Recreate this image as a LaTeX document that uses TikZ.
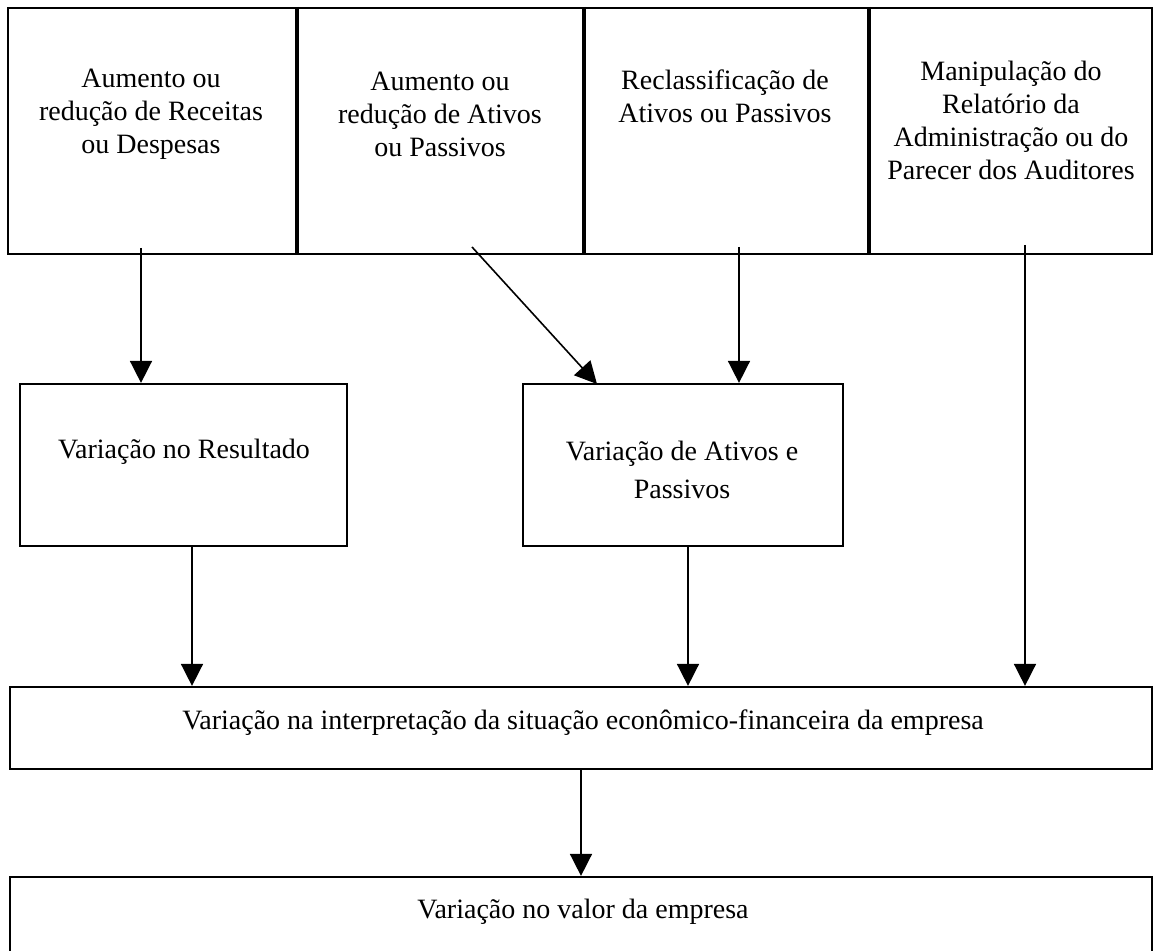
\documentclass[tikz,border=0pt]{standalone}
\usepackage{fontspec}
\setmainfont{Liberation Serif}
\usepackage{tikz}
\usetikzlibrary{arrows.meta,positioning,fit}

\tikzset{
	cell/.style={draw, line width=1.1pt, inner sep=0pt},
	lbl/.style={align=center, inner sep=0pt, font=\fontsize{14}{16.5}\selectfont},
	flow/.style={line width=0.8pt, -{Triangle[length=11pt,width=11pt]}},
}

\begin{document}
\begin{tikzpicture}[x=0.5pt,y=-0.5pt]
		\useasboundingbox (0,0) rectangle (1153,951);
		\clip (0,0) rectangle (1153,951);
		% top row
		\node[cell, fit={(8,8) (296,254)}] (ra) {};
		\node[cell, fit={(296,8) (583,254)}] (rb) {};
		\node[cell, fit={(583,8) (868,254)}] (rc) {};
		\node[cell, fit={(868,8) (1152,254)}] (rd) {};
		\draw[line width=2.2pt] (ra.north east) to (ra.south east);
		\draw[line width=2.2pt] (rb.north east) to (rb.south east);
		\draw[line width=2.2pt] (rc.north east) to (rc.south east);
		\node[lbl] (ta) at (151,114) {Aumento ou\\redução de Receitas\\ou Despesas};
		\node[lbl] (tb) at (440,114) {Aumento ou\\redução de Ativos\\ou Passivos};
		\node[lbl] (tc) at (725,96) {Reclassificação de\\Ativos ou Passivos};
		\node[lbl] (td) at (1011,120) {Manipulação do\\Relatório da\\Administração ou do\\Parecer dos Auditores};
		% middle row
		\node[cell, fit={(20,384) (347,546)}] (res) {};
		\node[cell, fit={(523,384) (843,546)}] (atp) {};
		\node[lbl] (tres) at (184,452) {Variação no Resultado};
		\node[lbl, font=\fontsize{14}{19}\selectfont] (tatp) at (682,470) {Variação de Ativos e\\Passivos};
		% bottom rows
		\node[cell, fit={(10,687) (1152,769)}] (int) {};
		\node[cell, fit={(10,877) (1152,962)}] (val) {};
		\node[lbl] (tint) at (583,723) {Variação na interpretação da situação econômico-financeira da empresa};
		\node[lbl] (tval) at (583,912) {Variação no valor da empresa};
		% arrow ends
		\coordinate (a1) at (141,248);
		\coordinate (b1) at (472,247);
		\coordinate (b2) at (597,384);
		\coordinate (c1) at (739,247);
		\coordinate (d1) at (1025,245);
		\coordinate (r1) at (192,546);
		\coordinate (s1) at (688,546);
		\draw[flow] (a1) to (a1 |- res.north);
		\draw[flow] (b1) to (b2);
		\draw[flow] (c1) to (c1 |- atp.north);
		\draw[flow] (d1) to (d1 |- int.north);
		\draw[flow] (r1) to (r1 |- int.north);
		\draw[flow] (s1) to (s1 |- int.north);
		\draw[flow] (int.south) to (val.north);
	\end{tikzpicture}
\end{document}
